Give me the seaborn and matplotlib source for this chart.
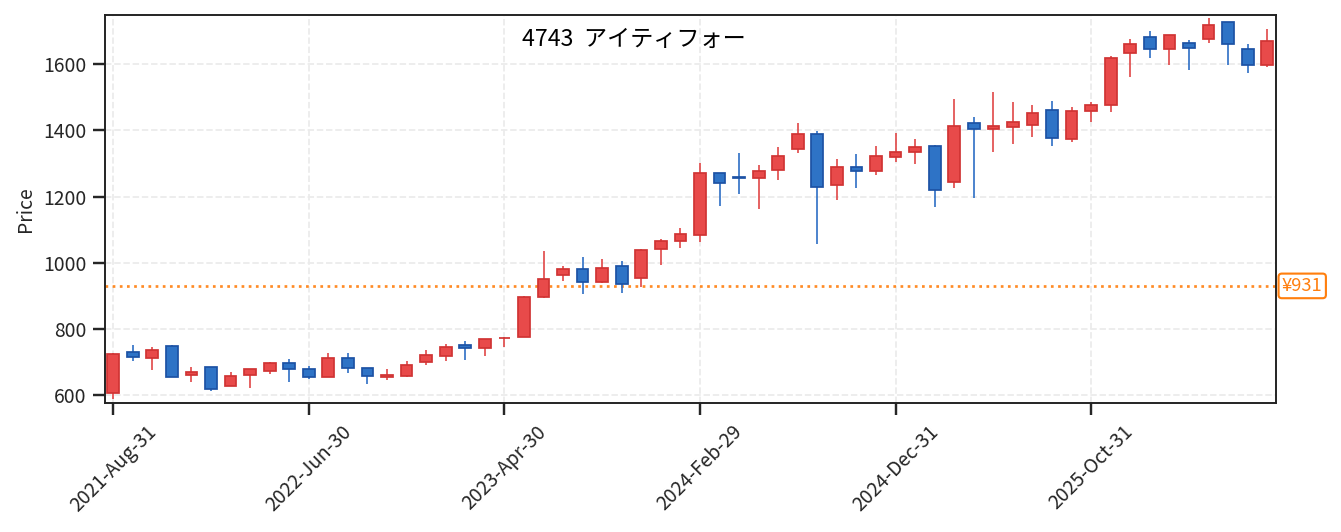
import matplotlib
matplotlib.use("Agg")
import matplotlib.pyplot as plt
import matplotlib.transforms as mtransforms
import seaborn as sns
import numpy as np

sns.set_theme(style="ticks")
plt.rcParams["font.family"] = ["Noto Sans CJK JP", "DejaVu Sans"]

# monthly candles, Aug 2021 onwards
tick_labels = ["2021-Aug-31", "2022-Jun-30", "2023-Apr-30",
               "2024-Feb-29", "2024-Dec-31", "2025-Oct-31"]

opens = [607, 730, 713, 748, 662, 685, 626, 662, 672, 697,
         680, 654, 713, 683, 654, 659, 701, 719, 750, 743,
         771, 775, 895, 963, 982, 943, 989, 953, 1043, 1065,
         1083, 1270, 1258, 1256, 1280, 1343, 1389, 1234, 1288, 1277,
         1319, 1335, 1352, 1243, 1421, 1404, 1410, 1416, 1461, 1374,
         1459, 1477, 1634, 1684, 1646, 1665, 1675, 1729, 1647, 1598]
closes = [724, 714, 737, 656, 670, 619, 658, 679, 697, 678,
          654, 713, 681, 657, 662, 692, 722, 746, 743, 770,
          774, 897, 952, 982, 943, 985, 937, 1039, 1067, 1088,
          1271, 1241, 1256, 1277, 1324, 1389, 1228, 1289, 1278, 1322,
          1336, 1351, 1219, 1412, 1405, 1413, 1427, 1454, 1377, 1460,
          1478, 1620, 1662, 1646, 1690, 1650, 1720, 1661, 1598, 1669]
highs = [728, 750, 746, 750, 686, 685, 671, 680, 701, 708,
         689, 726, 726, 683, 678, 702, 735, 754, 763, 770,
         775, 900, 1035, 990, 1017, 1010, 1004, 1043, 1071, 1105,
         1302, 1270, 1332, 1296, 1351, 1423, 1398, 1314, 1329, 1354,
         1391, 1373, 1355, 1494, 1440, 1515, 1485, 1476, 1489, 1470,
         1485, 1624, 1677, 1700, 1690, 1674, 1740, 1729, 1661, 1707]
lows = [588, 703, 676, 655, 639, 613, 626, 621, 664, 639,
        648, 654, 667, 633, 645, 654, 691, 703, 706, 717,
        744, 775, 893, 945, 906, 939, 909, 927, 994, 1045,
        1064, 1173, 1208, 1164, 1250, 1333, 1057, 1191, 1226, 1264,
        1306, 1298, 1170, 1225, 1197, 1336, 1360, 1381, 1354, 1366,
        1427, 1457, 1563, 1620, 1599, 1584, 1663, 1599, 1573, 1591]

ref_price = 931
title = "4743  アイティフォー"

o = np.array(opens)
c = np.array(closes)
h = np.array(highs)
l = np.array(lows)
x = np.arange(len(o))
up = c >= o

fig = plt.figure(figsize=(1341 / 139, 532 / 139), dpi=139)
ax = fig.add_axes([105 / 1341, 1 - 403 / 532, 1171 / 1341, 388 / 532])

col_up, edge_up = "#e84a4a", "#d03434"
col_dn, edge_dn = "#2e73c6", "#1c52a4"

# wicks
ax.vlines(x[up], l[up], h[up], color="#e04444", linewidth=0.85, zorder=2)
ax.vlines(x[~up], l[~up], h[~up], color="#2a6cc4", linewidth=0.85, zorder=2)

# bodies
bottoms = np.minimum(o, c)
heights = np.abs(c - o)
ax.bar(x[up], heights[up], bottom=bottoms[up], width=0.6,
       color=col_up, edgecolor=edge_up, linewidth=0.9, zorder=3)
ax.bar(x[~up], heights[~up], bottom=bottoms[~up], width=0.6,
       color=col_dn, edgecolor=edge_dn, linewidth=0.9, zorder=3)

# reference line + label
ax.axhline(930, color="#ff7f0e", linestyle=":", linewidth=1.4, alpha=0.9, zorder=1)
trans = mtransforms.blended_transform_factory(ax.transAxes, ax.transData)
ax.text(1.005, 930, f"¥{ref_price}", transform=trans, ha="left", va="center",
        fontsize=9.5, color="#ff7f0e",
        bbox=dict(boxstyle="round,pad=0.18", facecolor="white",
                  edgecolor="#ff7f0e", linewidth=1.1))

ax.text(0.452, 0.936, title, transform=ax.transAxes, ha="center",
        va="center", fontsize=12, color="black")

ax.set_xlim(-0.42, 59.45)
ax.set_ylim(576, 1749)
ax.set_xticks(x[::10])
ax.set_xticklabels(tick_labels, rotation=45, ha="center", fontsize=10)
ax.set_yticks(np.arange(600, 1700, 200))
ax.tick_params(axis="y", labelsize=10)
ax.set_ylabel("Price", fontsize=10)

ax.grid(True, linestyle="--", color="#ebebeb", linewidth=0.9)
for s in ax.spines.values():
    s.set_color("#222222")
    s.set_linewidth(1.0)

fig.savefig("out.png", dpi=139)
